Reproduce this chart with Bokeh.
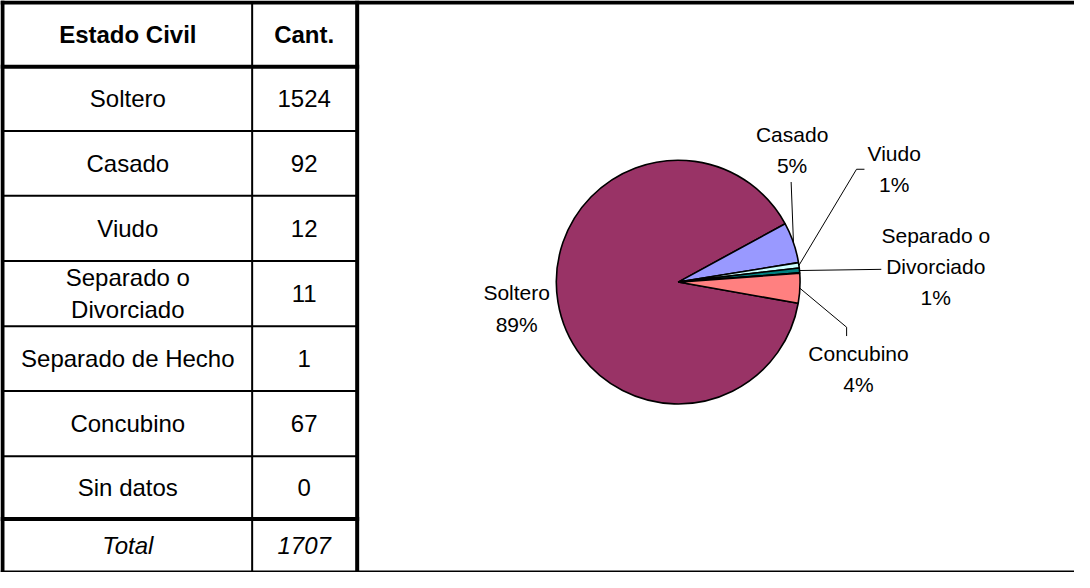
import math
from bokeh.plotting import figure
from bokeh.models import Range1d, ColumnDataSource
from bokeh.core.properties import value
from bokeh.embed import file_html
from bokeh.resources import INLINE

# ---------------- data ----------------
header = ["Estado Civil", "Cant."]
categories = ["Soltero", "Casado", "Viudo", "Separado o\nDivorciado",
              "Separado de Hecho", "Concubino", "Sin datos"]
counts = [1524, 92, 12, 11, 1, 67, 0]
total_label = "Total"
total_value = 1707
slice_colors = ["#993366", "#9999FF", "#CCFFFF", "#008080", "#660066", "#FF8080", "#0066CC"]

# ---------------- layout (reference pixel coordinates) ----------------
FONT = "Liberation Sans"
W, H = 1074, 572
X0, X1 = 6, 1090
Y0, Y1 = 5, 588


def Y(v):
    return Y1 - v


p = figure(width=W, height=H, x_range=Range1d(X0, X1), y_range=Range1d(0, Y1 - Y0),
           toolbar_location=None, output_backend="svg", min_border=0)
p.axis.visible = False
p.grid.visible = False
p.outline_line_color = None
p.background_fill_color = "white"
p.border_fill_color = "white"

# table geometry
col_left, col_sep, col_right = 8, 260, 366
row_lines = [72.5, 138, 204, 270.5, 337, 403, 469.5, 533.5]
row_top = 7
row_bottom = 587

# frame / table lines
segs = []
segs.append((X0, Y(7), X1, Y(7), 4))          # top border
segs.append((X0, Y(587), X1, Y(587), 2))      # bottom border
segs.append((8, Y(5), 8, Y(588), 4))          # left border
segs.append((col_right, Y(5), col_right, Y(588), 4))  # table right border
segs.append((col_sep, Y(7), col_sep, Y(587), 2))      # column separator
for i, ry in enumerate(row_lines):
    thick = (i == 0 or i == len(row_lines) - 1)
    segs.append((6 if thick else 8, Y(ry), 368 if thick else col_right, Y(ry), 4 if thick else 2))

for x0, y0, x1, y1, lw in segs:
    p.segment(x0=[x0], y0=[y0], x1=[x1], y1=[y1], line_color="black", line_width=lw)

# table texts
bounds = [row_top] + row_lines + [row_bottom]
centers = [(bounds[i] + bounds[i + 1]) / 2 for i in range(len(bounds) - 1)]
c1 = (10 + 259) / 2
c2 = (261 + 364) / 2

tfs = "24px"
p.text(x=[c1, c2], y=[Y(centers[0])] * 2, text=header, text_align="center",
       text_baseline="middle", text_font=value(FONT), text_font_style="bold",
       text_font_size=tfs, text_color="black")
p.text(x=[c1] * len(categories), y=[Y(c) for c in centers[1:1 + len(categories)]],
       text=categories, text_align="center", text_baseline="middle",
       text_font=value(FONT), text_font_size=tfs, text_line_height=1.18, text_color="black")
p.text(x=[c2] * len(counts), y=[Y(c) for c in centers[1:1 + len(counts)]],
       text=[str(c) for c in counts], text_align="center", text_baseline="middle",
       text_font=value(FONT), text_font_size=tfs, text_color="black")
p.text(x=[c1, c2], y=[Y(centers[-1])] * 2, text=[total_label, str(total_value)],
       text_align="center", text_baseline="middle", text_font=value(FONT),
       text_font_style="italic", text_font_size=tfs, text_color="black")

# ---------------- pie ----------------
cx, cy, R = 690, Y(292), 123
theta0 = -10.0  # first slice angle (degrees, math convention), slices go clockwise
tot = sum(counts)
starts, ends, mids = [], [], []
cum = 0
for c in counts:
    a_s = theta0 - 360.0 * cum / tot
    a_e = a_s - 360.0 * c / tot
    starts.append(a_s)
    ends.append(a_e)
    mids.append((a_s + a_e) / 2)
    cum += c

src = ColumnDataSource(dict(
    start=[math.radians(e) for e, c in zip(ends, counts) if c > 0],
    end=[math.radians(s) for s, c in zip(starts, counts) if c > 0],
    color=[col for col, c in zip(slice_colors, counts) if c > 0],
))
p.wedge(x=cx, y=cy, radius=R, start_angle="start", end_angle="end",
        direction="anticlock", fill_color="color", line_color="black",
        line_width=1.6, source=src)

# pie labels: position per category (layout only)
label_pos = {
    "Soltero": (527, 319),
    "Casado": (805, 157.5),
    "Viudo": (908, 177),
    "Separado o\nDivorciado": (950, 276),
    "Concubino": (872, 380.5),
}
# leader line bends / ends (layout only)
leader_pts = {
    "Casado": [(804, 190)],
    "Viudo": [(870, 177), (878, 177)],
    "Separado o\nDivorciado": [(895, 279)],
    "Concubino": [(860, 338), (860, 347)],
}

lx, ly, lt = [], [], []
for name, c, m in zip(categories, counts, mids):
    pct = round(100.0 * c / tot)
    if name not in label_pos or pct == 0:
        continue
    x, yv = label_pos[name]
    lx.append(x)
    ly.append(Y(yv))
    lt.append(f"{name}\n{pct}%")
    if name in leader_pts:
        ex = cx + R * math.cos(math.radians(m))
        ey = cy + R * math.sin(math.radians(m))
        xs = [ex] + [q[0] for q in leader_pts[name]]
        ys = [ey] + [Y(q[1]) for q in leader_pts[name]]
        p.line(x=xs, y=ys, line_color="black", line_width=1)

p.text(x=lx, y=ly, text=lt, text_align="center", text_baseline="middle",
       text_font=value(FONT), text_font_size="21px", text_line_height=1.36,
       text_color="black")

open("out.html", "w").write(file_html(p, INLINE))
